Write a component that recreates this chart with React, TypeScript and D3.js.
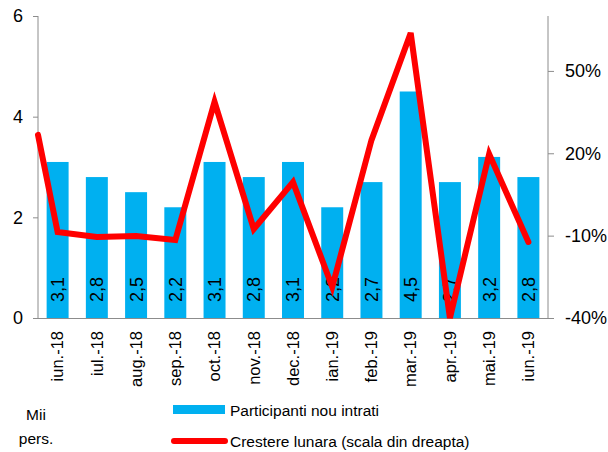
import React, { useEffect, useRef } from 'react';
import * as d3 from 'd3';

// Categories (months) and series
const months = ['iun.-18', 'iul.-18', 'aug.-18', 'sep.-18', 'oct.-18', 'nov.-18', 'dec.-18',
  'ian.-19', 'feb.-19', 'mar.-19', 'apr.-19', 'mai.-19', 'iun.-19'];
const participants = [3.1, 2.8, 2.5, 2.2, 3.1, 2.8, 3.1, 2.2, 2.7, 4.5, 2.7, 3.2, 2.8];
const barLabels = ['3,1', '2,8', '2,5', '2,2', '3,1', '2,8', '3,1', '2,2', '2,7', '4,5', '2,7', '3,2', '2,8'];
// monthly growth (%); the first value belongs to the month before jun.-18 and sits on the left edge
const growthPrev = 26.7;
const growth = [-8.7, -10.5, -10.1, -11.6, 38.7, -7.6, 9.5, -28.7, 24.8, 63.8, -40, 19.7, -12.3];
const leftTicks = [0, 2, 4, 6];
const rightTicks = [-40, -10, 20, 50];

const FONT = '"Liberation Sans", Arial, sans-serif';
const NARROW = '"Liberation Sans Narrow", "Arial Narrow", "Liberation Sans", sans-serif';

const App = () => {
  const ref = useRef<SVGSVGElement>(null);

  useEffect(() => {
    const width = 608;
    const height = 452;
    const m = { left: 38, right: 60, top: 16, bottom: 134 };
    const x0 = m.left, x1 = width - m.right, yTop = m.top, yBot = height - m.bottom;

    const svg = d3.select(ref.current);
    svg.selectAll('*').remove();

    const x = d3.scaleBand().domain(months).range([x0, x1]).paddingInner(0.44).paddingOuter(0.22);
    const yL = d3.scaleLinear().domain([0, 6]).range([yBot, yTop]);
    const yR = d3.scaleLinear().domain([-40, 70]).range([yBot, yTop]);
    const cx = (mo: string) => (x(mo) as number) + x.bandwidth() / 2;

    const axisColor = '#8c8c8c';

    // bars
    svg.append('g')
      .selectAll('rect')
      .data(participants)
      .join('rect')
      .attr('x', (d, i) => x(months[i]) as number)
      .attr('y', d => yL(d))
      .attr('width', x.bandwidth())
      .attr('height', d => yBot - yL(d))
      .attr('fill', '#00b0f0');

    // bar value labels (rotated, inside bars)
    svg.append('g')
      .selectAll('text')
      .data(barLabels)
      .join('text')
      .attr('transform', (d, i) => `translate(${cx(months[i])},${yBot - 16}) rotate(-90)`)
      .attr('dy', '0.36em')
      .attr('font-family', NARROW)
      .attr('font-size', 18)
      .attr('fill', '#000')
      .text(d => d);

    // axes
    const left = svg.append('g').attr('transform', `translate(${x0},0)`)
      .call(d3.axisLeft(yL).tickValues(leftTicks).tickSize(5).tickPadding(10).tickFormat(d3.format('d')));
    const right = svg.append('g').attr('transform', `translate(${x1},0)`)
      .call(d3.axisRight(yR).tickValues(rightTicks).tickSize(6).tickPadding(11).tickFormat(d => `${d}%`));
    [left, right].forEach(g => {
      g.select('.domain').attr('stroke', axisColor).attr('d', `M0,${yTop}V${yBot}`);
      g.selectAll('.tick line').attr('stroke', axisColor);
      g.selectAll('.tick text').attr('font-family', NARROW).attr('font-size', 18).attr('fill', '#000');
    });
    svg.append('line')
      .attr('x1', x0 - 5).attr('x2', x1)
      .attr('y1', yBot + 0.5).attr('y2', yBot + 0.5)
      .attr('stroke', axisColor);

    // category labels
    svg.append('g')
      .selectAll('text')
      .data(months)
      .join('text')
      .attr('transform', d => `translate(${cx(d)},${yBot + 13}) rotate(-90)`)
      .attr('text-anchor', 'end')
      .attr('dy', '0.35em')
      .attr('font-family', FONT)
      .attr('font-size', 16.5)
      .text(d => d);

    // growth line
    const pts: [number, number][] = [[x0, yR(growthPrev)], ...growth.map((g, i) => [cx(months[i]), yR(g)] as [number, number])];
    svg.append('path')
      .attr('d', d3.line()(pts))
      .attr('fill', 'none')
      .attr('stroke', '#ff0000')
      .attr('stroke-width', 6)
      .attr('stroke-linejoin', 'miter')
      .attr('stroke-linecap', 'round');

    // unit label
    const unit = svg.append('text').attr('font-family', FONT).attr('font-size', 15.5).attr('text-anchor', 'middle');
    unit.append('tspan').attr('x', 36).attr('y', 420).text('Mii');
    unit.append('tspan').attr('x', 36).attr('y', 444).text('pers.');

    // legend
    const lg = svg.append('g').attr('font-family', FONT).attr('font-size', 15.5);
    lg.append('rect').attr('x', 173).attr('y', 405).attr('width', 52).attr('height', 9).attr('fill', '#00b0f0');
    lg.append('text').attr('x', 230).attr('y', 416).text('Participanti nou intrati');
    lg.append('line').attr('x1', 174).attr('x2', 225).attr('y1', 441).attr('y2', 441)
      .attr('stroke', '#ff0000').attr('stroke-width', 6).attr('stroke-linecap', 'round');
    lg.append('text').attr('x', 230).attr('y', 447).text('Crestere lunara (scala din dreapta)');
  }, []);

  return (
    <svg ref={ref} width={608} height={452}
      style={{ position: 'absolute', left: 0, top: 0, background: '#fff' }} />
  );
};

export default App;
